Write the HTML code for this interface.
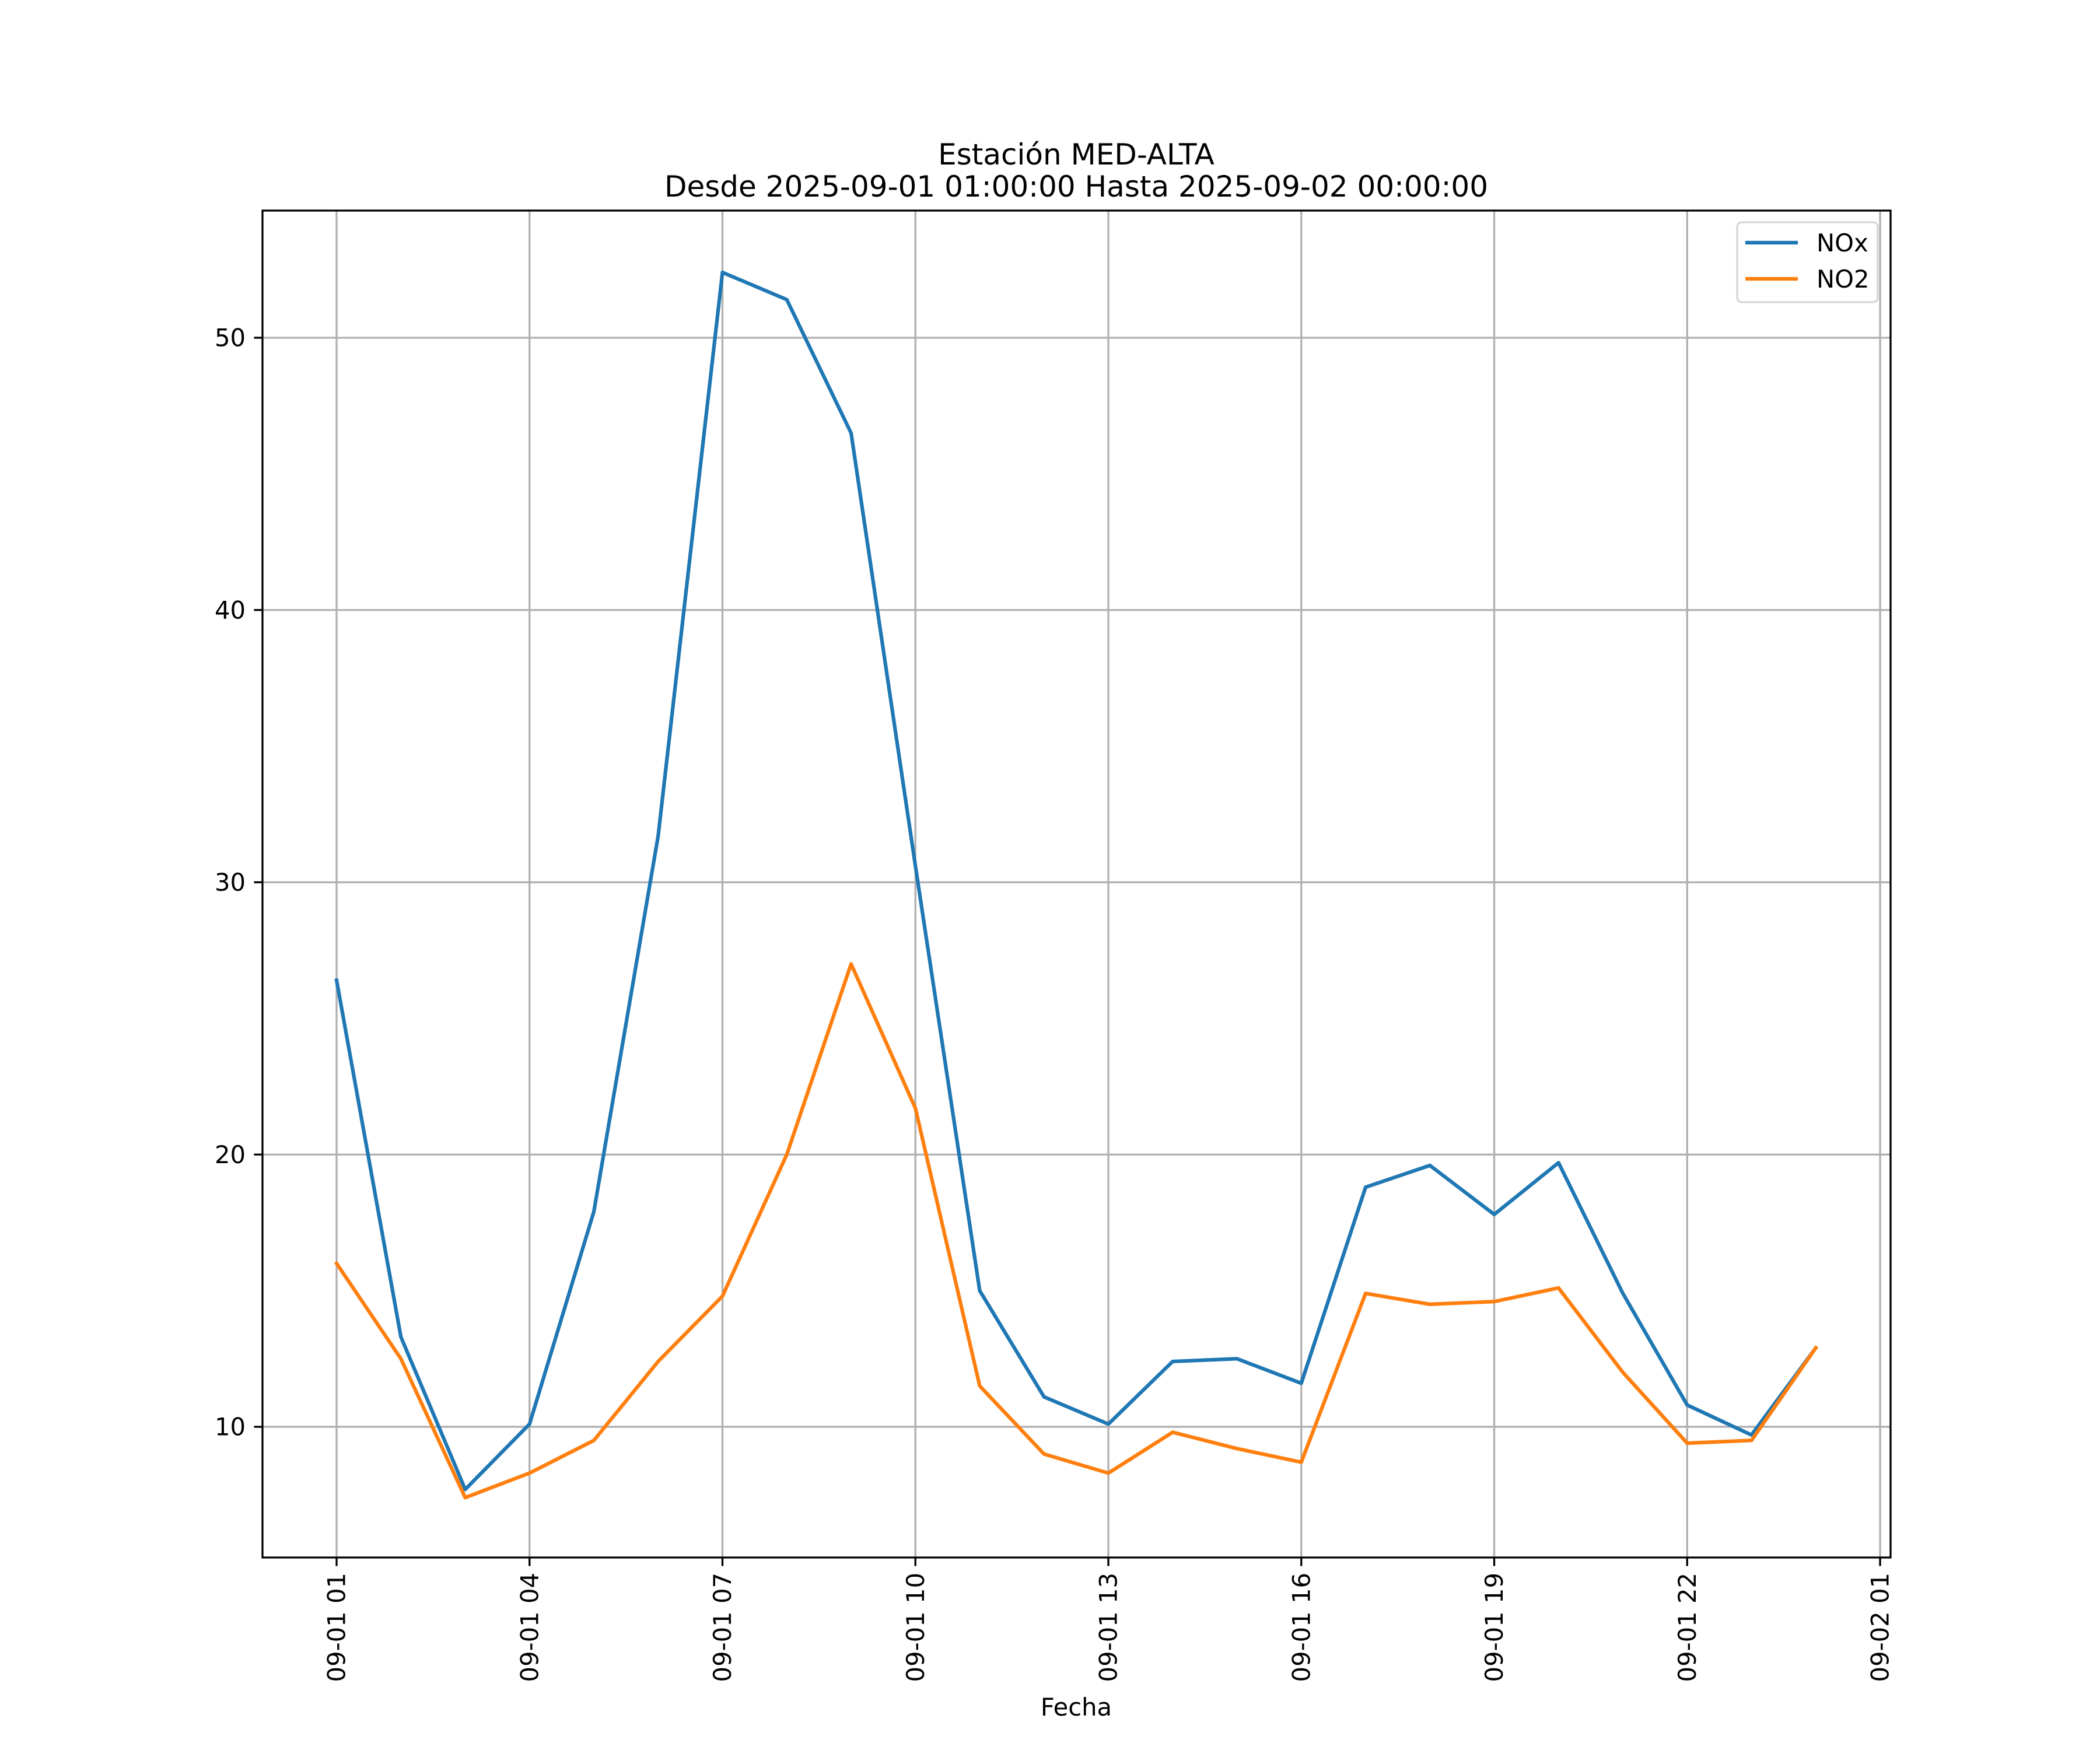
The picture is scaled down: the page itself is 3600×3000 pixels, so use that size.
<!DOCTYPE html>
<html><head><meta charset="utf-8"><style>
html,body{margin:0;padding:0;background:#fff}
svg{display:block;font-family:"DejaVu Sans","Liberation Sans",sans-serif}
</style></head><body>
<svg id="chart" width="3600" height="3000" viewBox="0 0 3600 3000" xmlns="http://www.w3.org/2000/svg">
<rect width="3600" height="3000" fill="#fff"/>
<g id="grid"></g>
<g id="series"></g>
<rect x="450" y="361" width="2791" height="2309" fill="none" stroke="#000" stroke-width="3.3"/>
<g id="ticks"></g>
<text x="1845" y="282" text-anchor="middle" font-size="50">Estación MED-ALTA</text>
<text x="1845" y="337" text-anchor="middle" font-size="50">Desde 2025-09-01 01:00:00 Hasta 2025-09-02 00:00:00</text>
<text x="1845" y="2941" text-anchor="middle" font-size="41.7">Fecha</text>
<g>
<rect x="2978" y="381" width="241" height="137" rx="8" fill="#fff" fill-opacity="0.8" stroke="#d6d6d6" stroke-width="3.3"/>
<line x1="2992" y1="416" x2="3082" y2="416" stroke="#1f77b4" stroke-width="6.25"/>
<text x="3114" y="431" font-size="41.7">NOx</text>
<line x1="2992" y1="478" x2="3082" y2="478" stroke="#ff7f0e" stroke-width="6.25"/>
<text x="3114" y="493" font-size="41.7">NO2</text>
</g>
</svg>
<script>
const hours = [1,2,3,4,5,6,7,8,9,10,11,12,13,14,15,16,17,18,19,20,21,22,23,24];
const noxValues = [26.4,13.3,7.7,10.1,17.9,31.7,52.4,51.4,46.5,30.6,15.0,11.1,10.1,12.4,12.5,11.6,18.8,19.6,17.8,19.7,14.9,10.8,9.7,12.9];
const no2Values = [16.0,12.5,7.4,8.3,9.5,12.4,14.8,20.0,27.0,21.7,11.5,9.0,8.3,9.8,9.2,8.7,14.9,14.5,14.6,15.1,12.0,9.4,9.5,12.9];
const xTickHours = [1,4,7,10,13,16,19,22,25];
const xTickLabels = ["09-01 01","09-01 04","09-01 07","09-01 10","09-01 13","09-01 16","09-01 19","09-01 22","09-02 01"];
const yTicks = [10,20,30,40,50];

const NS="http://www.w3.org/2000/svg";
const L=450,R=3241,T=361,B=2670;
const xmin=-0.152,xmax=25.163,ymin=5.2,ymax=54.67;
const xs=h=>L+(h-xmin)/(xmax-xmin)*(R-L);
const ys=v=>B-(v-ymin)/(ymax-ymin)*(B-T);
function mk(tag,attrs,parent){const e=document.createElementNS(NS,tag);for(const k in attrs)e.setAttribute(k,attrs[k]);parent.appendChild(e);return e;}
const grid=document.getElementById('grid'),ticks=document.getElementById('ticks'),series=document.getElementById('series');
xTickHours.forEach((h,i)=>{
  const x=xs(h);
  const g=mk('line',{x1:x,y1:T,x2:x,y2:B,stroke:'#b0b0b0','stroke-width':3.3},grid);
  
  
  const t=mk('line',{x1:x,y1:B,x2:x,y2:B+14.6,stroke:'#000','stroke-width':3.3},ticks);
  
  
  const tx=mk('text',{transform:`translate(${x},${B+26}) rotate(-90)`,'text-anchor':'end',dy:'0.35em','font-size':41.7},ticks);
  tx.textContent=xTickLabels[i];
  
  
});
yTicks.forEach(v=>{
  const y=ys(v);
  const g=mk('line',{x1:L,y1:y,x2:R,y2:y,stroke:'#b0b0b0','stroke-width':3.3},grid);
  
  
  const t=mk('line',{x1:L-14.6,y1:y,x2:L,y2:y,stroke:'#000','stroke-width':3.3},ticks);
  
  
  const tx=mk('text',{x:L-29,y:y,dy:'0.35em','text-anchor':'end','font-size':41.7},ticks);
  tx.textContent=String(v);
  
  
});
function drawLine(vals,color,name){
  const pts=vals.map((v,i)=>xs(hours[i]).toFixed(2)+','+ys(v).toFixed(2)).join(' ');
  const p=mk('polyline',{points:pts,fill:'none',stroke:color,'stroke-width':6.25,'stroke-linejoin':'round','stroke-linecap':'square'},series);
  
  
}
drawLine(noxValues,'#1f77b4','nox-line');
drawLine(no2Values,'#ff7f0e','no2-line');
</script>
</body></html>
